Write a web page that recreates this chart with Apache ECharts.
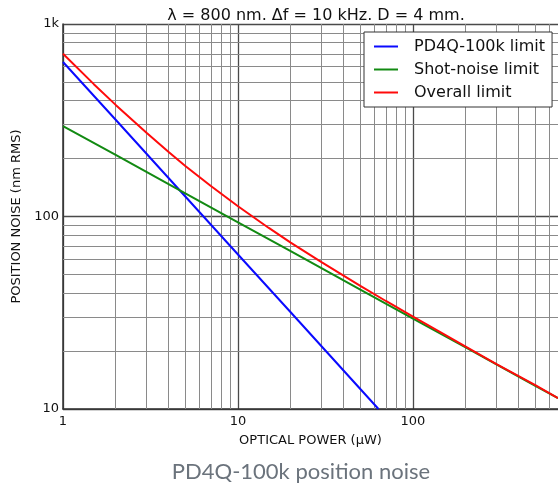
<!DOCTYPE html>
<html><head><meta charset="utf-8">
<script src="https://cdn.jsdelivr.net/npm/echarts@6/dist/echarts.min.js"></script>
<style>html,body{margin:0;padding:0;background:#fff}#c{width:558px;height:491px}</style>
</head><body><div id="c"></div>
<script>
const powerBlue = [1, 2, 5, 10, 20, 50, 63.5];
const pd4qLimit = [635, 318, 127, 63.5, 31.8, 12.7, 10];
const powerGreen = [1, 2, 5, 10, 20, 50, 100, 200, 500, 674];
const shotLimit = [295, 209, 132, 93.3, 66, 41.7, 29.5, 20.9, 13.2, 11.4];
const powerRed = [1, 1.5, 2, 3, 4, 5, 7, 10, 15, 20, 30, 50, 70, 100, 150, 200, 300, 500, 674];
const overallLimit = [700, 487, 380, 272, 217, 183, 144, 113, 87.2, 73.2, 57.9, 43.6, 36.4, 30.2, 24.5, 21.1, 17.1, 13.3, 11.4];
const xMinorTicks = [2,3,4,5,6,7,8,9,20,30,40,50,60,70,80,90,200,300,400,500,600];
const yMinorTicks = [20,30,40,50,60,70,80,90,200,300,400,500,600,700,800,900];
const xTickLabels = {1:'1', 10:'10', 100:'100'};
const yTickLabels = {10:'10', 100:'100', 1000:'1k'};

const zip = (xs, ys) => xs.map((x, i) => [x, ys[i]]);
const chart = echarts.init(document.getElementById('c'));
const minorStyle = {color: '#8a8a8a', width: 1, type: 'solid'};
chart.setOption({
  animation: false,
  title: {
    text: 'λ = 800 nm. Δf = 10 kHz. D = 4 mm.',
    left: 311, top: 3, textAlign: 'center',
    textStyle: {fontFamily: 'DejaVu Sans', fontSize: 16, fontWeight: 'normal', color: '#111'}
  },
  graphic: [{
    type: 'text', x: 301, y: 472, z: 10,
    style: {text: 'PD4Q-100k position noise', font: '22px Lato', fill: '#6b737c',
      textAlign: 'center', textVerticalAlign: 'middle'}
  }],
  legend: {
    data: ['PD4Q-100k limit', 'Shot-noise limit', 'Overall limit'],
    orient: 'vertical', left: 364, top: 32, z: 10,
    backgroundColor: '#fff', borderColor: '#333', borderWidth: 1, borderRadius: 0,
    padding: [5, 7, 5, 10],
    itemWidth: 24, itemHeight: 2, itemGap: 4, icon: 'rect',
    textStyle: {fontFamily: 'DejaVu Sans', fontSize: 16, color: '#111', padding: [0, 0, 0, 11], lineHeight: 19}
  },
  grid: {left: 63, width: 495, top: 24, bottom: 82, containLabel: false, outerBoundsMode: 'none'},
  xAxis: {
    type: 'log', logBase: 10, min: 1, max: 674,
    name: 'OPTICAL POWER (µW)', nameLocation: 'middle', nameGap: 25,
    nameTextStyle: {fontFamily: 'DejaVu Sans', fontSize: 13, color: '#111'},
    axisLine: {show: true, lineStyle: {color: '#333', width: 1.5}},
    axisTick: {show: false},
    axisLabel: {fontFamily: 'DejaVu Sans', fontSize: 13, color: '#111', margin: 6,
      formatter: v => xTickLabels[Math.round(v)] || ''},
    splitLine: {show: true, showMaxLine: false, lineStyle: {color: '#4a4a4a', width: 1.3}}
  },
  yAxis: {
    type: 'log', logBase: 10, min: 10, max: 1000,
    name: 'POSITION NOISE (nm RMS)', nameLocation: 'middle', nameGap: 31,
    nameTextStyle: {fontFamily: 'DejaVu Sans', fontSize: 13, color: '#111'},
    axisLine: {show: true, lineStyle: {color: '#333', width: 1.5}},
    axisTick: {show: false},
    axisLabel: {fontFamily: 'DejaVu Sans', fontSize: 13, color: '#111', margin: 4,
      formatter: v => yTickLabels[Math.round(v)] || ''},
    splitLine: {show: true, lineStyle: {color: '#4a4a4a', width: 1.3}}
  },
  series: [
    {
      type: 'line', z: 1, silent: true, data: zip(powerGreen, shotLimit),
      symbol: 'none', lineStyle: {opacity: 0},
      markLine: {
        silent: true, symbol: 'none', animation: false, z: 1,
        label: {show: false}, lineStyle: minorStyle,
        data: xMinorTicks.map(v => ({xAxis: v})).concat(yMinorTicks.map(v => ({yAxis: v})))
      }
    },
    {name: 'PD4Q-100k limit', type: 'line', z: 3, data: zip(powerBlue, pd4qLimit),
      symbol: 'none', color: '#0a0aff', lineStyle: {width: 2}},
    {name: 'Shot-noise limit', type: 'line', z: 3, data: zip(powerGreen, shotLimit),
      symbol: 'none', color: '#128a12', lineStyle: {width: 2}},
    {name: 'Overall limit', type: 'line', z: 4, data: zip(powerRed, overallLimit),
      symbol: 'none', color: '#ff0a0a', lineStyle: {width: 2}}
  ]
});
</script></body></html>
